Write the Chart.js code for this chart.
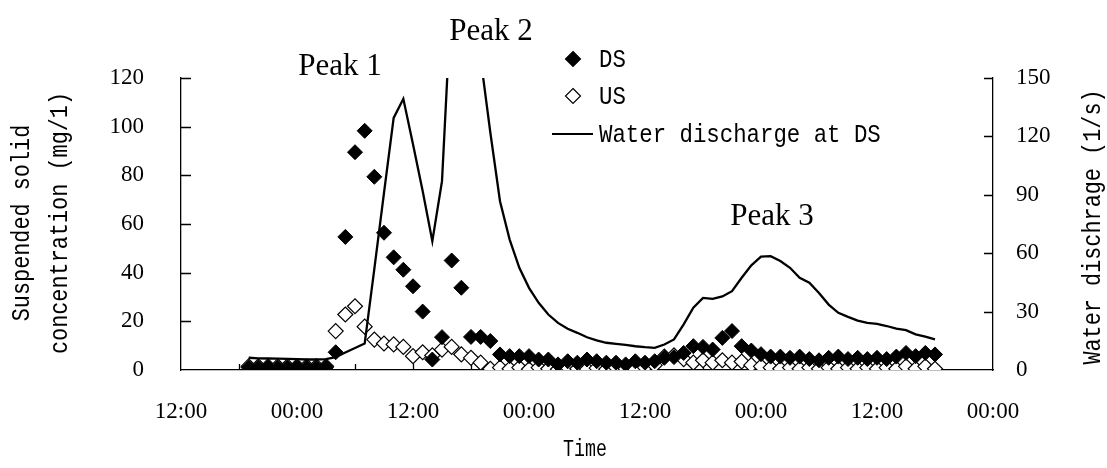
<!DOCTYPE html>
<html>
<head>
<meta charset="utf-8">
<script src="https://cdn.jsdelivr.net/npm/chart.js@4.4.1/dist/chart.umd.min.js"></script>
<style>
  html, body { margin: 0; padding: 0; background: #fff; }
  canvas { display: block; }
</style>
</head>
<body>
<canvas id="c" width="1107" height="468"></canvas>
<script>
// Time in hours after the first "12:00" tick
const hours = [7,8,9,10,11,12,13,14,15,16,17,18,19,20,21,22,23,24,25,26,27,28,29,30,31,32,33,34,35,36,37,38,39,40,41,42,
  43,44,45,46,47,48,49,50,51,52,53,54,55,56,57,58,59,60,61,62,63,64,65,66,67,68,69,70,71,72,73,74,75,76,77,78];

// Suspended solid concentration at DS (mg/l)
const dsValues = [1,1,1,1,1,1,1,1,1,7.3,54.7,89.5,98.3,79.4,56.4,46.3,41.2,34.4,24,4.3,13.5,45,33.8,13.6,13.6,11.9,6.4,5.7,5.7,5.7,4.3,4.3,
  2.3,3.6,3,4.3,3.6,3,3,2.3,3.6,3,3.6,5,5.3,7,9.8,9.5,8.4,13.2,16,9.8,8,6.5,5.5,5.5,5,5.5,4.5,4,5,5.5,4.5,5,4.5,5,4.5,5.5,7,5.7,7,6.4];

// Suspended solid concentration at US (mg/l)
const usValues = [1.5,1.5,1.5,1.5,1.5,1.5,1.5,1.5,1.5,16,22.8,26.2,17.8,12.5,10.9,10.5,9.5,5.7,7.3,6,8.4,9.5,6.4,5,3,0.5,1,0.5,1,0.3,1,0.5,
  0.3,1,0.5,0.3,0.8,0.3,1,0.5,0.3,1,2,5.5,6,4.5,3,4,3,4,3,3.5,2,1.5,1,0.5,1,0.5,1,0.5,1,0.5,1,0.5,1,0.5,1,0.5,1.5,0.5,1.5,0.5];

// Water discharge at DS (l/s)
const waterValues = [6.3,6,5.9,5.8,5.7,5.6,5.4,5.4,5.6,6.6,9,11.3,13.6,52,91,129.5,139.3,116,92,66.2,97,195,235,215,160,122,86.7,67,52.5,42.2,34.5,28.5,
  24.2,21.2,19.1,16.8,15.2,14,13.4,12.9,12.2,11.7,11.4,13.1,15.7,23.4,32,37,36.5,37.8,40.5,47.4,53.8,58.2,58.5,56,52.5,47.4,44.8,39.6,33.6,29.4,27.3,25.4,24.2,23.7,22.6,21.2,20.5,18.3,17.1,15.7];

const leftTickValues = [0,20,40,60,80,100,120];
const rightTickValues = [0,30,60,90,120,150];
const xTickLabels = ['12:00','00:00'];

const peakLabels = ['Peak 1','Peak 2','Peak 3'];
const legendLabels = ['DS','US','Water discharge at DS'];
const leftTitle = ['Suspended solid','concentration (mg/1)'];
const rightTitle = 'Water dischrage (1/s)';
const xTitle = 'Time';

const toPts = (vals) => hours.map((h, i) => ({ x: h, y: vals[i] }));

function diamond(ctx, x, y, r, fill) {
  ctx.beginPath();
  ctx.moveTo(x, y - r); ctx.lineTo(x + r, y); ctx.lineTo(x, y + r); ctx.lineTo(x - r, y); ctx.closePath();
  ctx.fillStyle = fill; ctx.fill();
  ctx.lineWidth = 1.2; ctx.strokeStyle = '#000'; ctx.stroke();
}

// narrow text (horizontally condensed), optional rotation
function narrowText(ctx, text, x, y, sx, align, rot) {
  ctx.save();
  ctx.translate(x, y);
  if (rot) ctx.rotate(rot);
  ctx.scale(sx, 1);
  ctx.textAlign = align;
  ctx.fillText(text, 0, 0);
  ctx.restore();
}

const decor = {
  id: 'decor',
  beforeDatasetsDraw(chart) {
    const { ctx, chartArea: a, scales: { x, y, y2 } } = chart;
    ctx.save();
    ctx.strokeStyle = '#000';
    ctx.lineWidth = 1.3;
    ctx.beginPath();
    leftTickValues.forEach(v => { if (v === 0) return; const p = Math.round(y.getPixelForValue(v)) + 0.5; ctx.moveTo(a.left, p); ctx.lineTo(a.left + 10, p); });
    rightTickValues.forEach(v => { if (v === 0) return; const p = Math.round(y2.getPixelForValue(v)) + 0.5; ctx.moveTo(a.right, p); ctx.lineTo(a.right - 9, p); });
    x.ticks.forEach(t => { if (t.value <= x.min || t.value >= x.max) return; const p = Math.round(x.getPixelForValue(t.value)) + 0.5; ctx.moveTo(p, a.bottom); ctx.lineTo(p, a.bottom - 6); });
    ctx.stroke();
    ctx.restore();
  },
  afterDraw(chart) {
    const { ctx } = chart;
    ctx.save();
    ctx.fillStyle = '#000';
    // Peak labels
    ctx.font = '31px "Liberation Serif"';
    ctx.textAlign = 'center';
    ctx.textBaseline = 'alphabetic';
    ctx.fillText(peakLabels[0], 340, 75);
    ctx.fillText(peakLabels[1], 491, 40);
    ctx.fillText(peakLabels[2], 772, 225);

    // Legend
    ctx.font = '26px "Liberation Mono"';
    ctx.textBaseline = 'middle';
    diamond(ctx, 573, 59, 7.5, '#000');
    ctx.fillStyle = '#000';
    narrowText(ctx, legendLabels[0], 599, 60, 0.86, 'left');
    diamond(ctx, 573, 96, 7.5, '#fff');
    ctx.fillStyle = '#000';
    narrowText(ctx, legendLabels[1], 599, 97, 0.86, 'left');
    ctx.beginPath(); ctx.moveTo(552, 134); ctx.lineTo(593, 134); ctx.lineWidth = 2.2; ctx.strokeStyle = '#000'; ctx.stroke();
    narrowText(ctx, legendLabels[2], 599, 135, 0.86, 'left');

    // Axis titles
    narrowText(ctx, leftTitle[0], 22, 223, 0.84, 'center', -Math.PI / 2);
    narrowText(ctx, leftTitle[1], 60, 223, 0.84, 'center', -Math.PI / 2);
    narrowText(ctx, rightTitle, 1093, 227, 0.84, 'center', -Math.PI / 2);
    ctx.font = '24px "Liberation Mono"';
    narrowText(ctx, xTitle, 585, 450, 0.76, 'center');
    ctx.restore();
  }
};

const tickFont = { family: 'Liberation Serif', size: 23 };
const borderOpt = { display: true, color: '#000', width: 1.3 };
const gridOpt = { display: true, drawOnChartArea: false, drawTicks: false };

new Chart(document.getElementById('c').getContext('2d'), {
  type: 'scatter',
  data: {
    datasets: [
      { label: legendLabels[2], data: toPts(waterValues), yAxisID: 'y2', showLine: true, borderColor: '#000', borderWidth: 2.3,
        pointRadius: 0, tension: 0, fill: false, order: 0 },
      { label: legendLabels[0], data: toPts(dsValues), yAxisID: 'y', pointStyle: 'rectRot', pointRadius: 7.5,
        backgroundColor: '#000', borderColor: '#000', borderWidth: 1, order: 1 },
      { label: legendLabels[1], data: toPts(usValues), yAxisID: 'y', pointStyle: 'rectRot', pointRadius: 7.5,
        backgroundColor: '#fff', borderColor: '#000', borderWidth: 1.2, order: 2 }
    ]
  },
  options: {
    responsive: false,
    animation: false,
    layout: { padding: { top: 78, left: 0, right: 0, bottom: 0 } },
    plugins: { legend: { display: false }, tooltip: { enabled: false } },
    scales: {
      x: {
        type: 'linear', position: 'bottom', min: 0, max: 84,
        afterFit: (s) => { s.height = 98; },
        grid: gridOpt, border: borderOpt,
        ticks: { stepSize: 6, autoSkip: false, maxRotation: 0, minRotation: 0, padding: 28, color: '#000', font: tickFont,
          callback: (v) => (v % 12 !== 0 ? '' : xTickLabels[(v % 24 === 0) ? 0 : 1]) }
      },
      y: {
        type: 'linear', position: 'left', min: 0, max: 120,
        afterFit: (s) => { s.width = 181; },
        grid: gridOpt, border: borderOpt,
        ticks: { stepSize: 20, padding: 37, color: '#000', font: tickFont }
      },
      y2: {
        type: 'linear', position: 'right', min: 0, max: 150,
        afterFit: (s) => { s.width = 114; },
        grid: gridOpt, border: borderOpt,
        ticks: { stepSize: 30, padding: 23, color: '#000', font: tickFont }
      }
    }
  },
  plugins: [decor]
});
</script>
</body>
</html>
